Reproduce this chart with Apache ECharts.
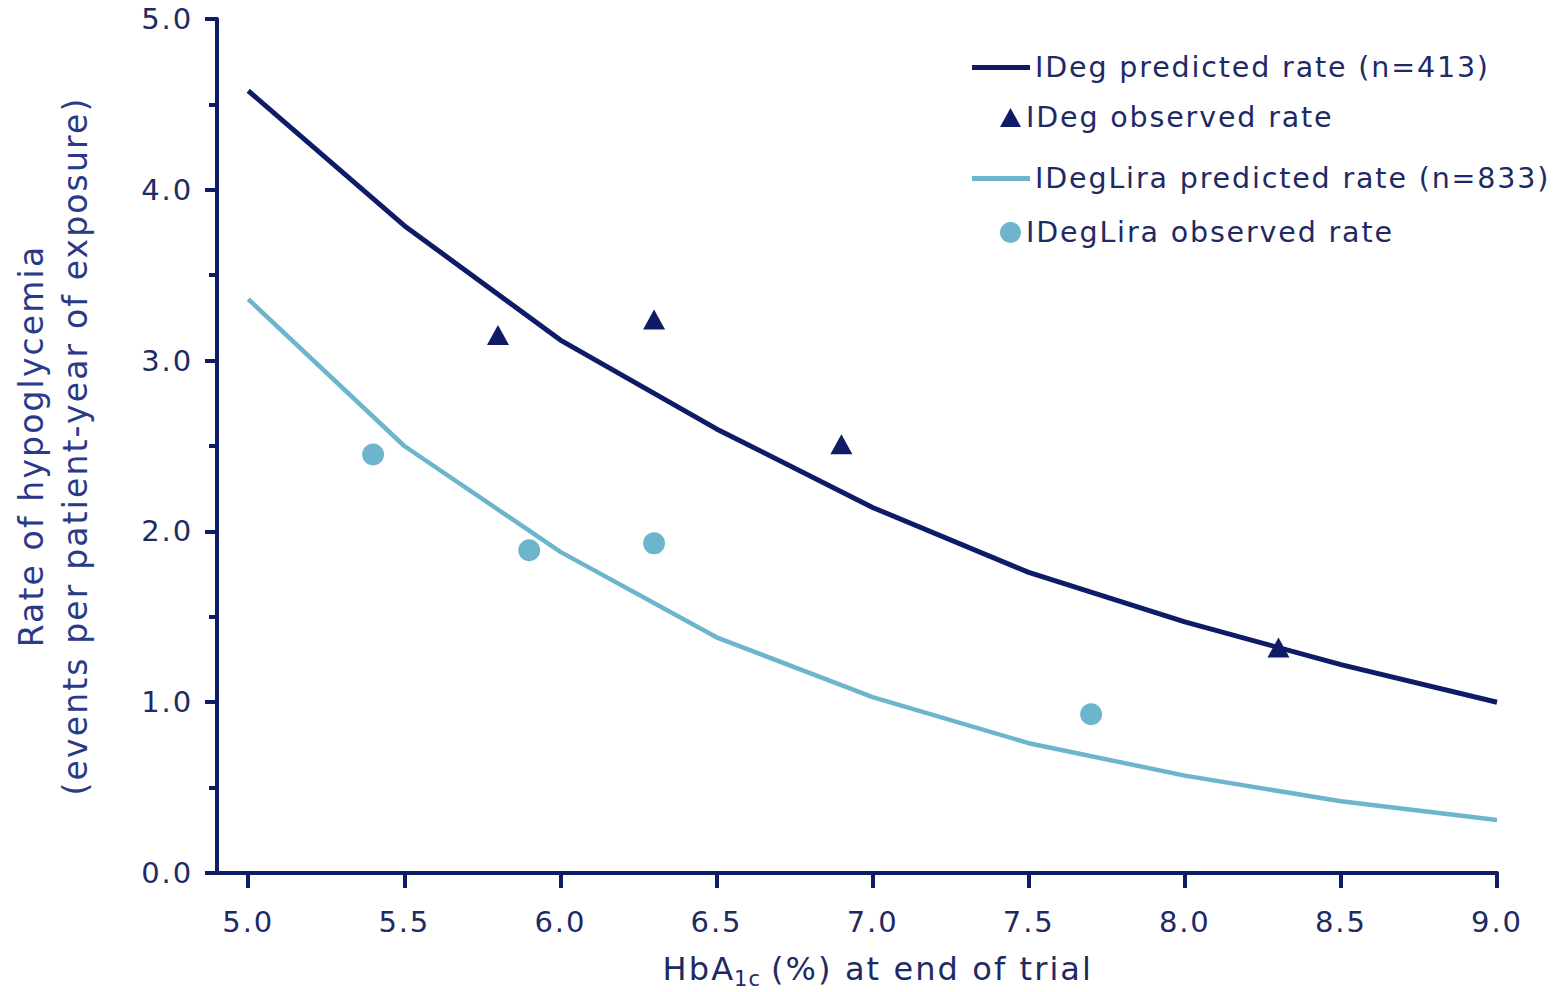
<!DOCTYPE html>
<html>
<head>
<meta charset="utf-8">
<script src="https://cdn.jsdelivr.net/npm/echarts@6/dist/echarts.min.js"></script>
<style>
html, body { margin: 0; padding: 0; background: #fff; }
#chart { width: 1559px; height: 992px; }
/* the source lettering is set a little wide */
#chart text { letter-spacing: 0.065em; }
</style>
</head>
<body>
<div id="chart"></div>
<script>
// predicted curves, read at every 0.5 of HbA1c
var predX = [5.0, 5.5, 6.0, 6.5, 7.0, 7.5, 8.0, 8.5, 9.0];
var idegPred = [4.58, 3.79, 3.12, 2.60, 2.14, 1.76, 1.47, 1.22, 1.00];
var liraPred = [3.36, 2.50, 1.88, 1.38, 1.03, 0.76, 0.57, 0.42, 0.31];

// observed rates
var idegObsX = [5.8, 6.3, 6.9, 8.3];
var idegObsY = [3.15, 3.24, 2.51, 1.32];
var liraObsX = [5.4, 5.9, 6.3, 7.7];
var liraObsY = [2.45, 1.89, 1.93, 0.93];

var xTicks = [5.0, 5.5, 6.0, 6.5, 7.0, 7.5, 8.0, 8.5, 9.0];

var names = ['IDeg predicted rate (n=413)', 'IDeg observed rate',
	'IDegLira predicted rate (n=833)', 'IDegLira observed rate'];

var navy = '#0e1c68';
var light = '#6cb5cc';
var textCol = '#1e2a64';

function pairs(xs, ys) {
	var out = [];
	for (var i = 0; i < xs.length; i++) {
		out.push([xs[i], ys[i]]);
	}
	return out;
}

function legendFor(item, left, top, w, h, gap) {
	return {
		data: [item],
		left: left,
		top: top,
		padding: 0,
		orient: 'vertical',
		itemWidth: w,
		itemHeight: h,
		itemGap: 0,
		itemStyle: { borderWidth: 0 },
		itemTextGap: gap,
		selectedMode: false,
		textStyle: { fontFamily: 'DejaVu Sans', fontSize: 28.5, color: textCol }
	};
}

var chart = echarts.init(document.getElementById('chart'), null, { renderer: 'svg' });
chart.setOption({
	backgroundColor: '#fff',
	animation: false,
	grid: {
		left: 217,
		right: 62,
		top: 19,
		bottom: 119,
		containLabel: false,
		outerBoundsMode: 'none'
	},
	legend: [
		legendFor({ name: names[0], icon: 'rect' }, 972, 53, 58, 5, 10),
		legendFor({ name: names[1], icon: 'triangle' }, 1000, 103, 21, 19, 19),
		legendFor({ name: names[2], icon: 'rect' }, 972, 164, 58, 5, 10),
		legendFor({ name: names[3], icon: 'circle' }, 1000, 218, 21, 21, 19)
	],
	xAxis: {
		type: 'value',
		min: 4.9,
		max: 9.0,
		// tokens left-aligned so the wide lettering only grows to the right
		name: '{m|HbA}{s|1c}{m|\u00a0(%) at end of trial}',
		nameLocation: 'middle',
		nameGap: 76,
		nameTextStyle: {
			color: textCol,
			rich: {
				m: { fontFamily: 'DejaVu Sans', fontSize: 32, color: textCol, lineHeight: 40, verticalAlign: 'middle', align: 'left' },
				s: { fontFamily: 'DejaVu Sans', fontSize: 21, color: textCol, lineHeight: 20, verticalAlign: 'bottom', align: 'left', padding: [0, 0, 0, 5] }
			}
		},
		splitLine: { show: false },
		axisLine: { onZero: false, lineStyle: { color: navy, width: 4 } },
		axisTick: {
			customValues: xTicks,
			inside: false,
			length: 15,
			lineStyle: { color: navy, width: 4 }
		},
		axisLabel: {
			customValues: xTicks,
			margin: 34,
			fontFamily: 'DejaVu Sans',
			fontSize: 29,
			color: textCol,
			formatter: function(v) { return v.toFixed(1); }
		}
	},
	yAxis: {
		type: 'value',
		min: 0,
		max: 5,
		interval: 1,
		name: 'Rate of hypoglycemia\n(events per patient-year of exposure)',
		nameLocation: 'middle',
		nameGap: 120,
		nameTextStyle: {
			fontFamily: 'DejaVu Sans',
			fontSize: 33,
			lineHeight: 44,
			color: '#2a3a88'
		},
		splitLine: { show: false },
		axisLine: { show: true, lineStyle: { color: navy, width: 4 } },
		axisTick: { show: true, length: 12, lineStyle: { color: navy, width: 4 } },
		minorTick: { show: true, splitNumber: 2, length: 8, lineStyle: { color: navy, width: 4 } },
		axisLabel: {
			margin: 24,
			fontFamily: 'DejaVu Sans',
			fontSize: 29,
			color: textCol,
			formatter: function(v) { return v.toFixed(1); }
		}
	},
	series: [
		{
			name: names[0],
			type: 'line',
			data: pairs(predX, idegPred),
			symbol: 'none',
			lineStyle: { color: navy, width: 5 },
			itemStyle: { color: navy },
			z: 2
		},
		{
			name: names[2],
			type: 'line',
			data: pairs(predX, liraPred),
			symbol: 'none',
			lineStyle: { color: light, width: 4.5 },
			itemStyle: { color: light },
			z: 2
		},
		{
			name: names[1],
			type: 'scatter',
			data: pairs(idegObsX, idegObsY),
			symbol: 'triangle',
			symbolSize: [22, 20],
			itemStyle: { color: navy, opacity: 1 },
			z: 3
		},
		{
			name: names[3],
			type: 'scatter',
			data: pairs(liraObsX, liraObsY),
			symbol: 'circle',
			symbolSize: 22,
			itemStyle: { color: light, opacity: 1 },
			z: 3
		}
	]
});
</script>
</body>
</html>
